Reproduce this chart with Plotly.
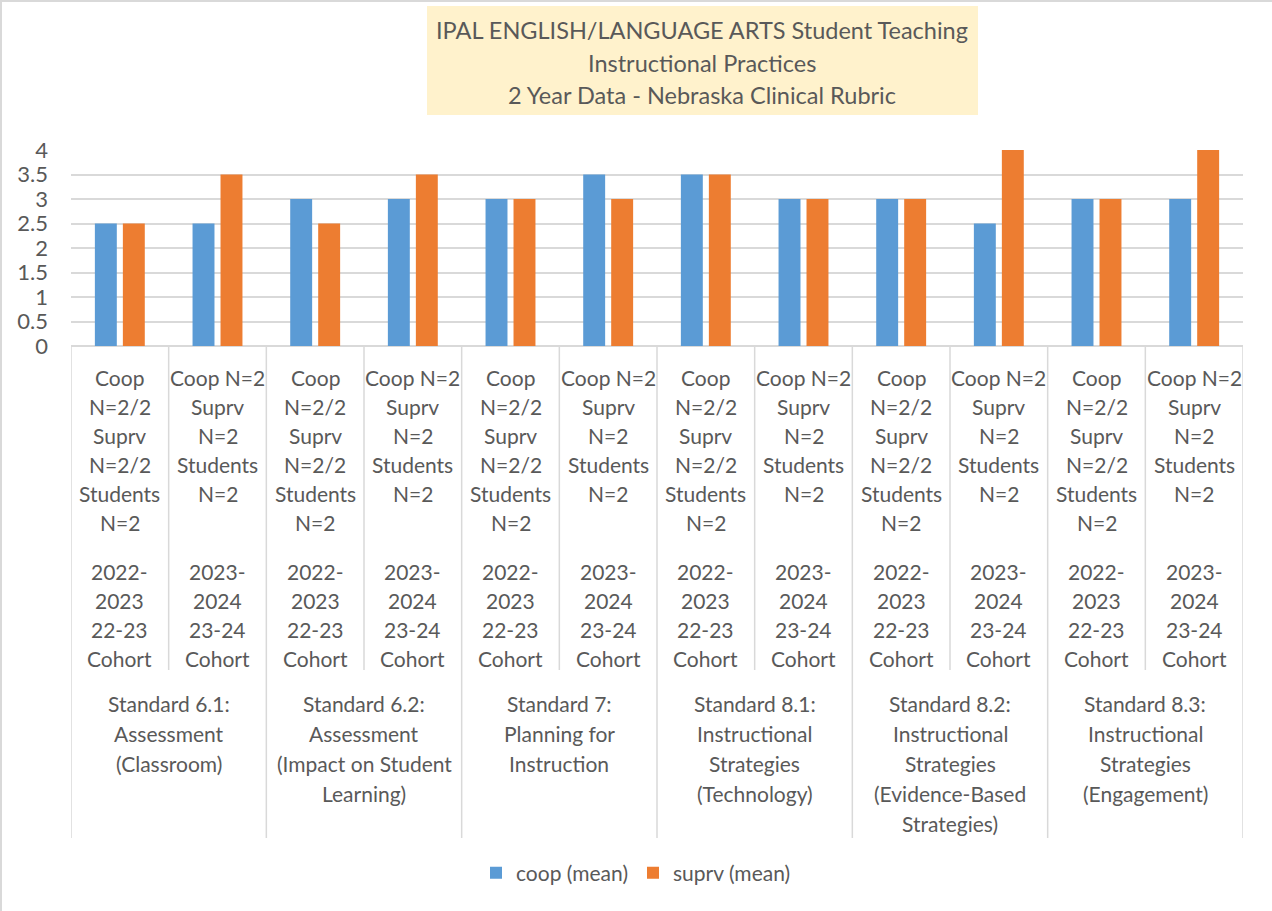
import plotly.graph_objects as go

# data
coop_mean = [2.5, 2.5, 3, 3, 3, 3.5, 3.5, 3, 3, 2.5, 3, 3]
suprv_mean = [2.5, 3.5, 2.5, 3.5, 3, 3, 3.5, 3, 3, 4, 3, 4]

count_labels = [
    ["Coop", "N=2/2", "Suprv", "N=2/2", "Students", "N=2"],
    ["Coop N=2", "Suprv", "N=2", "Students", "N=2"],
] * 6
year_labels = [
    ["2022-", "2023", "22-23", "Cohort"],
    ["2023-", "2024", "23-24", "Cohort"],
] * 6
standards = [
    ["Standard 6.1:", "Assessment", "(Classroom)"],
    ["Standard 6.2:", "Assessment", "(Impact on Student", "Learning)"],
    ["Standard 7:", "Planning for", "Instruction"],
    ["Standard 8.1:", "Instructional", "Strategies", "(Technology)"],
    ["Standard 8.2:", "Instructional", "Strategies", "(Evidence-Based", "Strategies)"],
    ["Standard 8.3:", "Instructional", "Strategies", "(Engagement)"],
]
title_lines = [
    "IPAL ENGLISH/LANGUAGE ARTS Student Teaching",
    "Instructional Practices",
    "2 Year Data - Nebraska Clinical Rubric",
]

colors = {
    'background': '#ffffff',
    'text': '#595959',
    'grid': '#d9d9d9',
    'coop': '#5b9bd5',
    'suprv': '#ed7d31',
    'title_bg': '#fff2cc',
}
font_family = "Lato, 'Open Sans', sans-serif"

# plot area in pixels
L, R, T, B = 71, 1243, 150, 346
W, H = 1272, 911


def px_x(x):
    return (x - L) / (R - L)


def px_y(y):
    return (B - y) / (B - T)


x = list(range(len(coop_mean)))

fig = go.Figure()
fig.add_trace(go.Bar(x=x, y=coop_mean, name='coop (mean)',
                     marker_color=colors['coop'], marker_line_width=0))
fig.add_trace(go.Bar(x=x, y=suprv_mean, name='suprv (mean)',
                     marker_color=colors['suprv'], marker_line_width=0))

annotations = []
line_h = 29
for i in x:
    for j, s in enumerate(count_labels[i]):
        annotations.append(dict(x=i, xref='x', y=px_y(377 + j * line_h), yref='paper',
                                text=s, showarrow=False, xanchor='center', yanchor='middle'))
    for j, s in enumerate(year_labels[i]):
        annotations.append(dict(x=i, xref='x', y=px_y(571 + j * line_h), yref='paper',
                                text=s, showarrow=False, xanchor='center', yanchor='middle'))
for k, lines in enumerate(standards):
    for j, s in enumerate(lines):
        annotations.append(dict(x=2 * k + 0.5, xref='x', y=px_y(703 + j * 30), yref='paper',
                                text=s, showarrow=False, xanchor='center', yanchor='middle'))
for j, s in enumerate(title_lines):
    annotations.append(dict(x=px_x(702), xref='paper', y=px_y(30 + j * 32.5), yref='paper',
                            text=s, showarrow=False, xanchor='center', yanchor='middle',
                            font=dict(size=23.5)))

shapes = [
    # title box
    dict(type='rect', xref='paper', yref='paper', x0=px_x(427), x1=px_x(978),
         y0=px_y(115), y1=px_y(6), fillcolor=colors['title_bg'], line_width=0, layer='below'),
    # outer chart border (left / top)
    dict(type='line', xref='paper', yref='paper', x0=px_x(1), x1=px_x(1),
         y0=px_y(0), y1=px_y(W), line=dict(color=colors['grid'], width=2)),
    dict(type='line', xref='paper', yref='paper', x0=px_x(0), x1=px_x(W),
         y0=px_y(1), y1=px_y(1), line=dict(color=colors['grid'], width=2)),
]
for b in range(len(x) + 1):
    bottom = 838 if b % 2 == 0 else 670
    shapes.append(dict(type='line', xref='x', yref='paper', x0=b - 0.5, x1=b - 0.5,
                       y0=0, y1=px_y(bottom), line=dict(color=colors['grid'], width=1.5)))

fig.update_layout(
    width=W, height=H,
    margin=dict(l=L, r=W - R, t=T, b=H - B, pad=0),
    plot_bgcolor=colors['background'],
    paper_bgcolor=colors['background'],
    font=dict(family=font_family, color=colors['text'], size=21),
    barmode='group',
    bargap=0.427,
    bargroupgap=0.216,
    showlegend=True,
    legend=dict(orientation='h', x=px_x(636), xanchor='center',
                yref='container', y=1 - 873 / H, yanchor='middle',
                font=dict(size=21), itemwidth=30, tracegroupgap=0),
    annotations=annotations,
    shapes=shapes,
)
fig.update_yaxes(
    range=[0, 4],
    tickvals=[0, 0.5, 1, 1.5, 2, 2.5, 3, 3.5, 4],
    ticktext=['0', '0.5', '1', '1.5', '2', '2.5', '3', '3.5', '4'],
    showline=False,
    gridcolor=colors['grid'],
    gridwidth=1.5,
    zeroline=True,
    zerolinecolor=colors['grid'],
    zerolinewidth=2,
    ticks='',
    ticklabelstandoff=22,
    tickfont=dict(size=22),
)
fig.update_xaxes(
    range=[-0.5, 11.5],
    showticklabels=False,
    showgrid=False,
    zeroline=False,
    showline=False,
)

fig.write_html("out.html", config={'displayModeBar': False},
               post_script="document.body.style.margin='0';")
